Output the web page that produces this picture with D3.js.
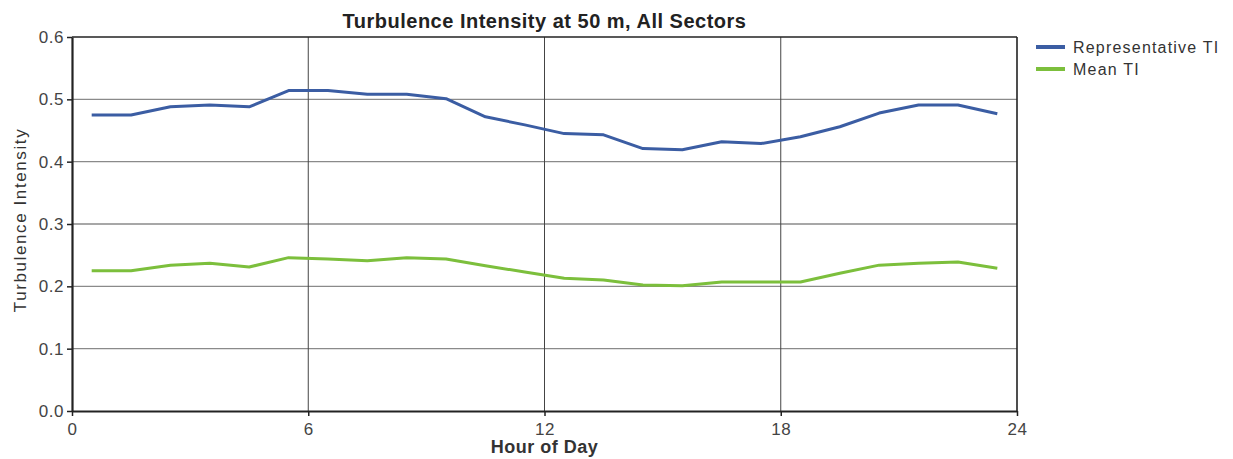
<!DOCTYPE html>
<html>
<head>
<meta charset="utf-8">
<script src="https://cdn.jsdelivr.net/npm/d3@7"></script>
<style>
  body { margin: 0; background: #fff; }
  text { font-family: "Liberation Sans", Arial, sans-serif; fill: #333; }
  .title { font-weight: bold; font-size: 20px; fill: #222; letter-spacing: 0.5px; }
  .xLabel { font-weight: bold; font-size: 18px; fill: #333; letter-spacing: 0.5px; }
  .yLabel { font-size: 17px; fill: #333; letter-spacing: 1.6px; }
  .tick text { font-size: 17px; fill: #444; letter-spacing: 0.5px; }
  .legend text { font-size: 16px; fill: #333; letter-spacing: 1.2px; }
</style>
</head>
<body>
<div id="chart"></div>
<script>
// hourly bins, plotted at the middle of each hour
var hours = d3.range(24).map(h => h + 0.5);

var representativeTI = [0.475, 0.475, 0.488, 0.491, 0.488, 0.514, 0.514, 0.508,
  0.508, 0.501, 0.472, 0.459, 0.445, 0.443, 0.421, 0.419,
  0.432, 0.429, 0.440, 0.456, 0.478, 0.491, 0.491, 0.477];

var meanTI = [0.225, 0.225, 0.234, 0.237, 0.231, 0.246, 0.244, 0.241,
  0.246, 0.244, 0.233, 0.223, 0.213, 0.210, 0.202, 0.201,
  0.207, 0.207, 0.207, 0.221, 0.234, 0.237, 0.239, 0.229];

var xTicks = [0, 6, 12, 18, 24];
var yTicks = [0, 0.1, 0.2, 0.3, 0.4, 0.5, 0.6];

var series = [
  { name: "Representative TI", values: representativeTI, color: "#3b5da3" },
  { name: "Mean TI", values: meanTI, color: "#7cbf3c" }
];

var width = 1233, height = 459;
var margin = { top: 37, right: 216, bottom: 48, left: 72 };
var w = width - margin.left - margin.right;
var h = height - margin.top - margin.bottom;

var svg = d3.select("#chart").append("svg")
  .attr("width", width)
  .attr("height", height);

var plot = svg.append("g")
  .attr("transform", "translate(" + margin.left + "," + margin.top + ")");

var x = d3.scaleLinear().domain([0, 24]).range([0, w]);
var y = d3.scaleLinear().domain([0, 0.6]).range([h, 0]);

// grid
plot.append("g")
  .selectAll("line")
  .data(yTicks.slice(1, -1))
  .join("line")
  .attr("x1", 0).attr("x2", w)
  .attr("y1", d => y(d)).attr("y2", d => y(d))
  .attr("stroke", "#8a8a8a")
  .attr("stroke-width", 1.3);

plot.append("g")
  .selectAll("line")
  .data(xTicks.slice(1, -1))
  .join("line")
  .attr("y1", 0).attr("y2", h)
  .attr("x1", d => x(d)).attr("x2", d => x(d))
  .attr("stroke", "#444")
  .attr("stroke-width", 1);

// frame top/right
plot.append("line").attr("x1", 0).attr("x2", w).attr("y1", 0).attr("y2", 0)
  .attr("stroke", "#222").attr("stroke-width", 1.6);
plot.append("line").attr("x1", w).attr("x2", w).attr("y1", 0).attr("y2", h)
  .attr("stroke", "#222").attr("stroke-width", 1.6);

// axes
var xAxis = d3.axisBottom(x).tickValues(xTicks).tickFormat(d3.format("d")).tickSize(5).tickSizeOuter(0);
var yAxis = d3.axisLeft(y).tickValues(yTicks).tickFormat(d3.format(".1f")).tickSize(5).tickSizeOuter(0);

var gx = plot.append("g")
  .attr("transform", "translate(0," + h + ")")
  .call(xAxis);
gx.select(".domain").attr("stroke", "#222").attr("stroke-width", 2.2);
gx.selectAll(".tick line").attr("stroke", "#222").attr("stroke-width", 1.5);
gx.selectAll(".tick text").attr("dy", "0.95em");

var gy = plot.append("g").call(yAxis);
gy.select(".domain").attr("stroke", "#222").attr("stroke-width", 2.2);
gy.selectAll(".tick line").attr("stroke", "#222").attr("stroke-width", 1.5);
gy.selectAll(".tick text").attr("x", -8);

// lines
var line = d3.line()
  .x((d, i) => x(hours[i]))
  .y(d => y(d));

series.forEach(function(s) {
  plot.append("path")
    .datum(s.values)
    .attr("fill", "none")
    .attr("stroke", s.color)
    .attr("stroke-width", 3)
    .attr("stroke-linejoin", "round")
    .attr("d", line);
});

// labels
svg.append("text")
  .attr("class", "title")
  .attr("x", margin.left + w / 2)
  .attr("y", 28)
  .attr("text-anchor", "middle")
  .text("Turbulence Intensity at 50 m, All Sectors");

svg.append("text")
  .attr("class", "xLabel")
  .attr("x", margin.left + w / 2)
  .attr("y", 453)
  .attr("text-anchor", "middle")
  .text("Hour of Day");

svg.append("text")
  .attr("class", "yLabel")
  .attr("transform", "translate(26," + (margin.top + h / 2 - 4) + ") rotate(-90)")
  .attr("text-anchor", "middle")
  .text("Turbulence Intensity");

// legend
var legend = svg.append("g")
  .attr("class", "legend")
  .attr("transform", "translate(1036,47)");

var item = legend.selectAll("g")
  .data(series)
  .join("g")
  .attr("transform", (d, i) => "translate(0," + i * 22 + ")");

item.append("line")
  .attr("x1", 0).attr("x2", 29)
  .attr("stroke", d => d.color)
  .attr("stroke-width", 4);

item.append("text")
  .attr("x", 37)
  .attr("y", 6)
  .text(d => d.name);
</script>
</body>
</html>
